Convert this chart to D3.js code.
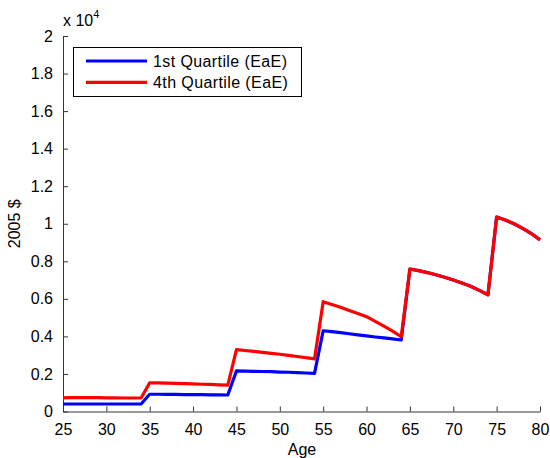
<!DOCTYPE html>
<html>
<head>
<meta charset="utf-8">
<script src="https://cdn.jsdelivr.net/npm/d3@7"></script>
<style>
  body { margin: 0; background: #fff; }
  text { font-family: "Liberation Sans", Arial, sans-serif; fill: #000; }
</style>
</head>
<body>
<svg id="svg" width="550" height="458"></svg>
<script>
// ages and values in units of 10^4 (2005 $)
const ages = d3.range(25, 81);
const q1 = [
  0.040, 0.040, 0.040, 0.040, 0.040, 0.040, 0.040, 0.040, 0.040, 0.040,
  0.092, 0.092, 0.091, 0.091, 0.090, 0.090, 0.090, 0.089, 0.089, 0.088,
  0.216, 0.215, 0.214, 0.213, 0.212, 0.210, 0.209, 0.207, 0.205, 0.203,
  0.430, 0.425, 0.420, 0.414, 0.408, 0.403, 0.397, 0.392, 0.387, 0.381,
  0.759, 0.750, 0.740, 0.728, 0.715, 0.700, 0.684, 0.667, 0.645, 0.622,
  1.036, 1.020, 1.000, 0.975, 0.948, 0.914
];
const q4 = [
  0.073, 0.074, 0.074, 0.074, 0.074, 0.073, 0.073, 0.072, 0.072, 0.072,
  0.153, 0.152, 0.151, 0.150, 0.148, 0.147, 0.145, 0.144, 0.142, 0.140,
  0.330, 0.325, 0.320, 0.315, 0.310, 0.305, 0.299, 0.293, 0.287, 0.280,
  0.585, 0.570, 0.555, 0.538, 0.522, 0.505, 0.480, 0.455, 0.428, 0.398,
  0.759, 0.750, 0.740, 0.728, 0.715, 0.700, 0.684, 0.667, 0.645, 0.622,
  1.036, 1.020, 1.000, 0.975, 0.948, 0.914
];
const xTicks = d3.range(25, 81, 5);
const yTicks = d3.range(0, 2.01, 0.2);
const seriesNames = ["1st Quartile (EaE)", "4th Quartile (EaE)"];
const seriesColors = ["#0000ff", "#ff0000"];

const svg = d3.select("#svg");
const mLeft = 63, mRight = 540, mTop = 36, mBottom = 411.5;

const x = d3.scaleLinear().domain([25, 80]).range([mLeft, mRight]);
const y = d3.scaleLinear().domain([0, 2]).range([mBottom, mTop]);

// axes (MATLAB style, ticks inside)
const xAxis = svg.append("g")
  .attr("transform", `translate(0,${mBottom})`)
  .call(d3.axisBottom(x).tickValues(xTicks).tickSizeInner(-5).tickSizeOuter(0).tickPadding(12));
const yAxis = svg.append("g")
  .attr("transform", `translate(${mLeft},0)`)
  .call(d3.axisLeft(y).tickValues(yTicks).tickSizeInner(-5).tickSizeOuter(0).tickPadding(10)
    .tickFormat(d => d3.format("~g")(+d.toFixed(1))));

[xAxis, yAxis].forEach(g => {
  g.selectAll("path").attr("stroke", "#333").attr("stroke-width", 1);
  g.selectAll("line").attr("stroke", "#333");
  g.selectAll("text").style("font-size", "16px").attr("fill", "#000");
});

// exponent label
const ex = svg.append("text").attr("x", 63).attr("y", 26).style("font-size", "16px");
ex.append("tspan").text("x 10");
ex.append("tspan").attr("dy", -8).style("font-size", "11px").text("4");

// axis titles
svg.append("text")
  .attr("x", 302).attr("y", 455)
  .attr("text-anchor", "middle").style("font-size", "16px").text("Age");
svg.append("text")
  .attr("transform", `translate(20,${(mTop + mBottom) / 2}) rotate(-90)`)
  .attr("text-anchor", "middle").style("font-size", "16px").text("2005 $");

// lines
const line = d3.line().x((d, i) => x(ages[i])).y(d => y(d));
[q1, q4].forEach((s, k) => {
  svg.append("path")
    .datum(s)
    .attr("d", line)
    .attr("fill", "none")
    .attr("stroke", seriesColors[k])
    .attr("stroke-width", 3.2)
    .attr("stroke-linejoin", "round");
});

// legend
const lg = svg.append("g");
lg.append("rect")
  .attr("x", 73.5).attr("y", 47.5).attr("width", 228).attr("height", 49)
  .attr("fill", "#fff").attr("stroke", "#000").attr("stroke-width", 1);
seriesNames.forEach((n, k) => {
  const yy = 61 + k * 21.3;
  lg.append("line").attr("x1", 86).attr("x2", 147).attr("y1", yy).attr("y2", yy)
    .attr("stroke", seriesColors[k]).attr("stroke-width", 3.2);
  lg.append("text").attr("x", 153).attr("y", yy + 6)
    .style("font-size", "16px").style("letter-spacing", "0.4px").text(n);
});
</script>
</body>
</html>
